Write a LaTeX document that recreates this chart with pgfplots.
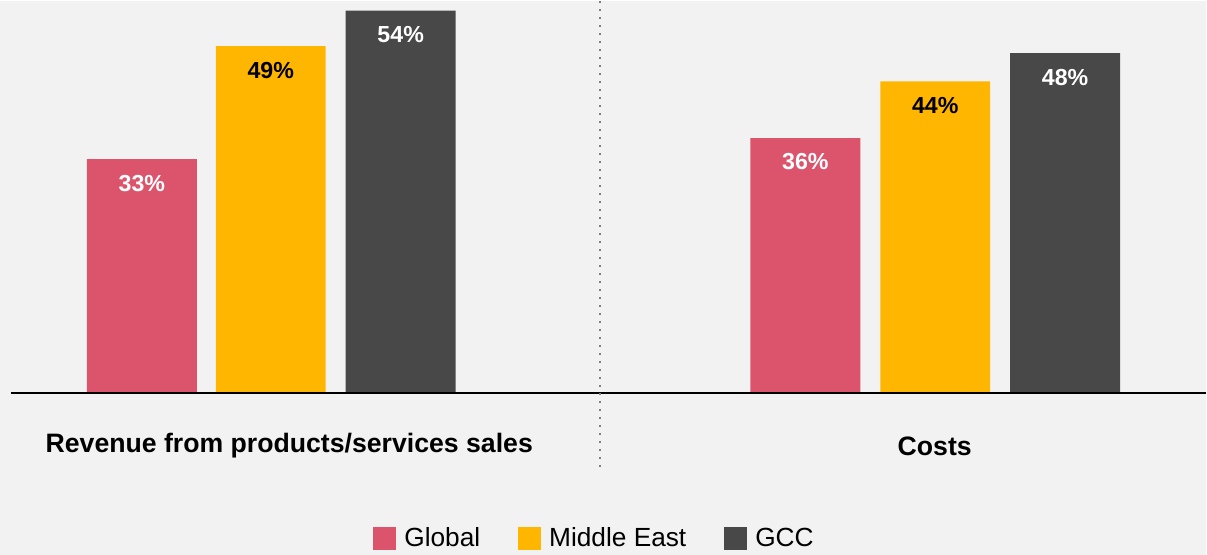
\documentclass[border=0pt]{standalone}
\usepackage{fontspec}
\setmainfont{Liberation Sans}
\usepackage{pgfplots}
\pgfplotsset{compat=1.18}

\definecolor{bgcol}{HTML}{F2F2F2}
\definecolor{globalcol}{HTML}{DC546C}
\definecolor{mecol}{HTML}{FFB600}
\definecolor{gcccol}{HTML}{474847}

% 1 px = 0.75pt; value axis: 7.08 px per percentage point, baseline 392 px from top
\begin{document}
\begin{tikzpicture}
\begin{axis}[
  scale only axis,
  width=905.25pt, height=415.5pt,
  xmin=0, xmax=1207,
  ymin=-22.88, ymax=55.37,
  axis line style={draw=none},
  axis background/.style={fill=bgcol},
  ticks=none,
  clip=false,
  ybar, bar shift=0pt, bar width=110,
  /pgf/number format/assume math mode=true,
  nodes near coords={\pgfmathprintnumber{\pgfplotspointmeta}\%},
  every node near coord/.append style={anchor=center, yshift=-18pt,
    font=\fontsize{17.4}{20}\selectfont\bfseries, white},
  legend columns=3,
  legend style={draw=none, fill=none, at={(axis cs:595,-20.6)}, anchor=center,
    font=\fontsize{19.7}{22}\selectfont,
    /tikz/every even column/.append style={column sep=26pt}},
  legend image code/.code={\fill[#1] (0pt,-8.6pt) rectangle (17.25pt,8.6pt);
    \path (21.75pt,0pt);},
]
\addplot[fill=globalcol, draw=none] coordinates {(142,33) (806,36)};
\addlegendentry{Global}
\addplot[fill=mecol, draw=none,
  every node near coord/.append style={black}] coordinates {(271,49) (936,44)};
\addlegendentry{Middle East}
\addplot[fill=gcccol, draw=none] coordinates {(401,54) (1066,48)};
\addlegendentry{GCC}

% baseline and group divider
\draw[black, line width=1.5pt] (axis cs:11,0) -- (axis cs:1207,0);
\draw[gray, line width=1.5pt, dash pattern=on 1.5pt off 4.5pt]
  (axis cs:600,55.37) -- (axis cs:600,-10.8);

% group names
\node[font=\fontsize{20}{22}\selectfont\bfseries] at (axis cs:289.5,-7.55)
  {Revenue from products/services sales};
\node[font=\fontsize{20}{22}\selectfont\bfseries] at (axis cs:935.5,-7.55)
  {Costs};
\end{axis}
\end{tikzpicture}
\end{document}
